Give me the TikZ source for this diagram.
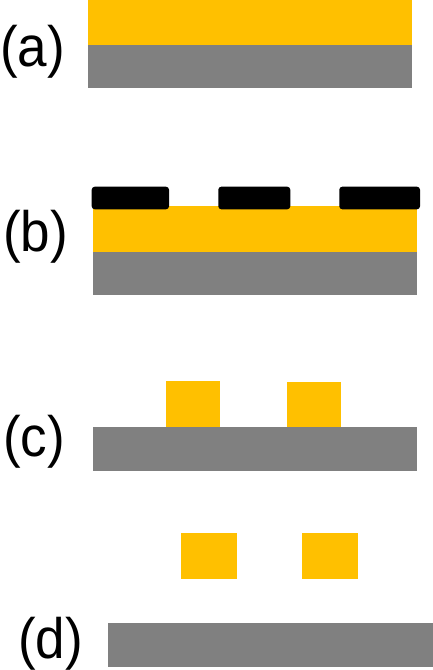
\documentclass[tikz,border=0pt]{standalone}
\usepackage{fontspec}
\setmainfont{Liberation Sans}
\definecolor{film}{HTML}{FFC000}
\definecolor{sub}{HTML}{808080}
\begin{document}
\begin{tikzpicture}[x=1pt,y=-1pt,
  filmbox/.style={fill=film,draw=none},
  subbox/.style={fill=sub,draw=none},
  maskbox/.style={fill=black,draw=none,rounded corners=3pt},
  lbl/.style={anchor=base west,inner sep=0pt,xscale=0.93,font=\fontsize{57}{60}\selectfont}]
\useasboundingbox (0,0) rectangle (433,670);
% (a)
\fill[filmbox] (88,0) rectangle (412,45);
\fill[subbox] (88,45) rectangle (412,88);
\node[lbl] (la) at (0,66) {(a)};
% (b)
\fill[filmbox] (93.3,205.7) rectangle (417,251.7);
\fill[subbox] (93.3,251.7) rectangle (417,295);
\fill[maskbox] (91.7,186.7) rectangle (169,209.3);
\fill[maskbox] (218.3,186.7) rectangle (290.3,209.3);
\fill[maskbox] (339.3,186.7) rectangle (420,209.3);
\node[lbl] (lb) at (3,251) {(b)};
% (c)
\fill[filmbox] (166,381) rectangle (220,427);
\fill[filmbox] (287,382) rectangle (341,427);
\fill[subbox] (93.3,427) rectangle (417,470.7);
\node[lbl] (lc) at (3,456) {(c)};
% (d)
\fill[filmbox] (181,533) rectangle (237,579);
\fill[filmbox] (302,533) rectangle (358,579);
\fill[subbox] (108,623) rectangle (433,666.7);
\node[lbl] (ld) at (18,658) {(d)};
\end{tikzpicture}
\end{document}
